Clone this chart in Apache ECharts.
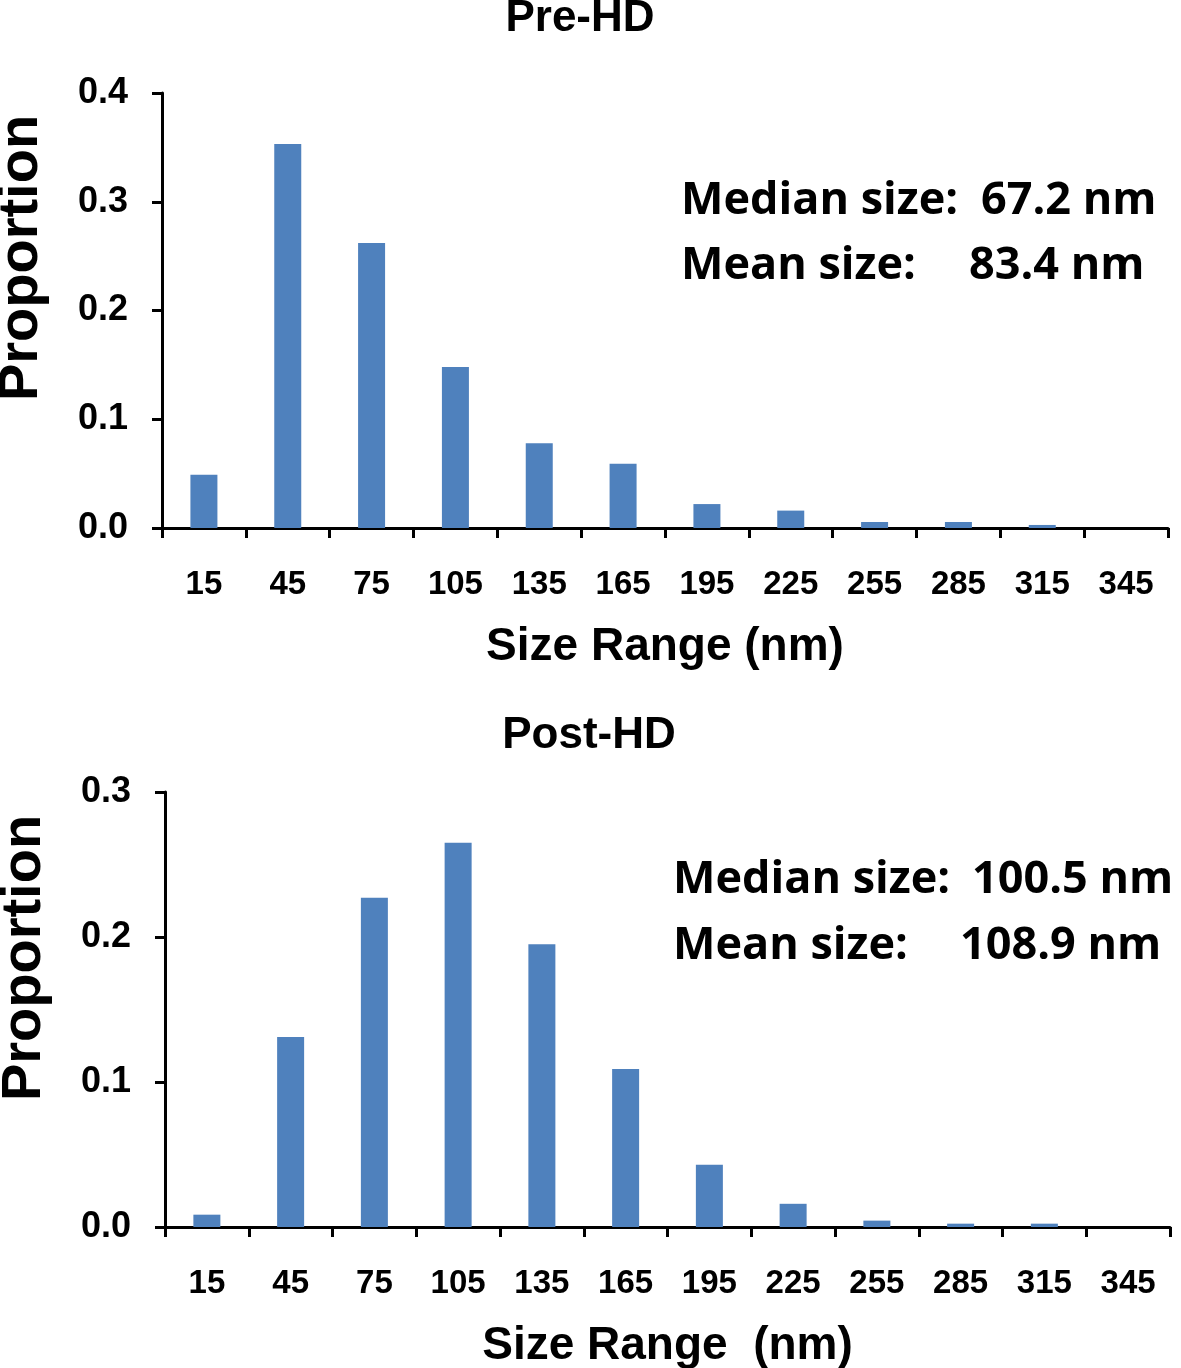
<!DOCTYPE html>
<html>
<head>
<meta charset="utf-8">
<script src="https://cdn.jsdelivr.net/npm/echarts@6/dist/echarts.min.js"></script>
<style>
html,body{margin:0;padding:0;background:#fff;}
#chart{width:1181px;height:1368px;}
</style>
</head>
<body>
<div id="chart"></div>
<script>
const categories = ['15','45','75','105','135','165','195','225','255','285','315','345'];
const preHD = [0.049, 0.353, 0.262, 0.148, 0.078, 0.059, 0.022, 0.016, 0.0055, 0.0055, 0.0028, 0];
const postHD = [0.0085, 0.131, 0.227, 0.265, 0.195, 0.109, 0.043, 0.016, 0.0044, 0.0023, 0.0023, 0];
const preTicks = {min: 0, max: 0.4, interval: 0.1};
const postTicks = {min: 0, max: 0.3, interval: 0.1};
const titles = ['Pre-HD', 'Post-HD'];
const xName = ['Size Range (nm)', 'Size Range  (nm)'];
const yName = 'Proportion';
const annotations = [
  [['Median size:', '67.2 nm'], ['Mean size:', '83.4 nm']],
  [['Median size:', '100.5 nm'], ['Mean size:', '108.9 nm']]
];

const BLUE = '#4f81bd';
const AX = {color: '#000', width: 3};
const sansB = 'Liberation Sans, Arial, sans-serif';
const annoFont = 'Open Sans, Lato, sans-serif';

function xAxis(gi, name) {
  return {
    type: 'category', gridIndex: gi, data: categories,
    axisLine: {lineStyle: AX},
    axisTick: {show: true, length: 10, lineStyle: AX, alignWithLabel: false},
    axisLabel: {margin: 40, fontFamily: sansB, fontWeight: 'bold', fontSize: 33, color: '#000'},
    name: name, nameLocation: 'middle', nameGap: 96,
    nameTextStyle: {fontFamily: sansB, fontWeight: 'bold', fontSize: 46, color: '#000'}
  };
}
function yAxis(gi, t) {
  return {
    type: 'value', gridIndex: gi, min: t.min, max: t.max, interval: t.interval,
    splitLine: {show: false},
    axisLine: {show: true, lineStyle: AX},
    axisTick: {show: true, length: 10, lineStyle: AX},
    axisLabel: {margin: 34, fontFamily: sansB, fontWeight: 'bold', fontSize: 36, color: '#000',
      formatter: v => v.toFixed(1)}
  };
}

const chart = echarts.init(document.getElementById('chart'), null, {renderer: 'canvas'});

function annoTexts(set, x1, x2a, x2b, y1, y2) {
  const st = {fontFamily: annoFont, fontWeight: 'bold', fontSize: 45, fill: '#000', textVerticalAlign: 'middle'};
  return [
    {type: 'text', x: x1, y: y1, style: Object.assign({text: set[0][0]}, st)},
    {type: 'text', x: x2a, y: y1, style: Object.assign({text: set[0][1]}, st)},
    {type: 'text', x: x1, y: y2, style: Object.assign({text: set[1][0]}, st)},
    {type: 'text', x: x2b, y: y2, style: Object.assign({text: set[1][1]}, st)}
  ];
}

const titleStyle = {fontFamily: sansB, fontWeight: 'bold', fontSize: 44, fill: '#000', textAlign: 'center', textVerticalAlign: 'middle'};
const yNameStyle = {fontFamily: sansB, fontWeight: 'bold', fontSize: 56, fill: '#000', textAlign: 'center', textVerticalAlign: 'middle'};

chart.setOption({
  animation: false,
  backgroundColor: '#fff',
  grid: [
    {left: 162, top: 93, width: 1006, height: 435, containLabel: false, outerBoundsMode: 'none'},
    {left: 165, top: 792, width: 1005, height: 435, containLabel: false, outerBoundsMode: 'none'}
  ],
  xAxis: [xAxis(0, xName[0]), xAxis(1, xName[1])],
  yAxis: [yAxis(0, preTicks), yAxis(1, postTicks)],
  series: [
    {type: 'bar', xAxisIndex: 0, yAxisIndex: 0, data: preHD, barWidth: 27, itemStyle: {color: BLUE}},
    {type: 'bar', xAxisIndex: 1, yAxisIndex: 1, data: postHD, barWidth: 27, itemStyle: {color: BLUE}}
  ],
  graphic: [
    {type: 'text', x: 580, y: 19, style: Object.assign({text: titles[0]}, titleStyle)},
    {type: 'text', x: 589, y: 736, style: Object.assign({text: titles[1]}, titleStyle)},
    {type: 'text', x: 22, y: 258, rotation: Math.PI / 2, style: Object.assign({text: yName}, yNameStyle)},
    {type: 'text', x: 25, y: 958, rotation: Math.PI / 2, style: Object.assign({text: yName}, yNameStyle)}
  ].concat(annoTexts(annotations[0], 681, 981, 969, 201, 266))
   .concat(annoTexts(annotations[1], 673, 972, 960, 880, 946))
});
</script>
</body>
</html>
